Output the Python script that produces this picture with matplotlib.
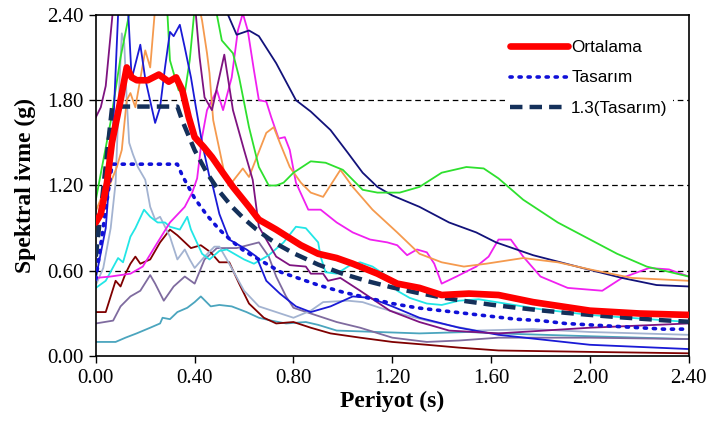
"""
Spektral ivme - periyot grafiği (kayıtlar, ortalama ve tasarım spektrumu)
"""

import matplotlib.pyplot as plt

# Kayıt spektrumları (periyot s, spektral ivme g)
t_purple = [0, 0.02, 0.04, 0.07, 0.12, 0.25, 0.38, 0.40, 0.42, 0.44, 0.47, 0.52, 0.555, 0.60, 0.635,
            0.66, 0.73, 0.785, 0.85, 0.87, 0.92, 0.94, 0.99, 1.07, 1.19, 1.31, 1.43, 1.63, 2.0, 2.4]
sa_purple = [1.68, 1.75, 1.90, 2.45, 3.0, 3.2, 2.7, 2.5, 2.1, 1.82, 1.73, 2.12, 1.73, 1.45, 1.24,
             0.91, 0.70, 0.64, 0.63, 0.58, 0.58, 0.53, 0.55, 0.46, 0.32, 0.24, 0.18, 0.16, 0.20, 0.23]

t_blue = [0, 0.04, 0.07, 0.09, 0.11, 0.13, 0.145, 0.18, 0.20, 0.24, 0.26, 0.28, 0.30, 0.315, 0.34,
          0.36, 0.385, 0.405, 0.43, 0.46, 0.47, 0.50, 0.54, 0.61, 0.65, 0.69, 0.745, 0.81, 0.87,
          0.95, 1.04, 1.11, 1.2, 1.31, 1.47, 1.63, 2.0, 2.4]
sa_blue = [0.55, 0.9, 1.6, 2.4, 2.8, 2.45, 1.95, 2.19, 1.95, 1.64, 1.75, 2.03, 2.28, 2.25, 2.33,
           2.17, 1.96, 1.75, 1.50, 1.26, 1.22, 1.0, 0.82, 0.75, 0.70, 0.53, 0.44, 0.35, 0.31,
           0.35, 0.42, 0.41, 0.35, 0.27, 0.20, 0.15, 0.08, 0.05]

t_green = [0, 0.025, 0.06, 0.10, 0.14, 0.2, 0.29, 0.30, 0.335, 0.36, 0.38, 0.40, 0.45, 0.49, 0.51,
           0.555, 0.58, 0.62, 0.66, 0.70, 0.73, 0.76, 0.80, 0.87, 0.93, 1.0, 1.08, 1.14, 1.23, 1.31,
           1.40, 1.50, 1.57, 1.63, 1.73, 1.87, 1.99, 2.11, 2.23, 2.4]
sa_green = [1.10, 1.33, 1.65, 2.1, 2.45, 3.0, 2.4, 2.08, 1.87, 1.85, 2.08, 2.45, 2.8, 2.4, 2.22,
            2.13, 1.96, 1.61, 1.33, 1.20, 1.20, 1.22, 1.29, 1.37, 1.36, 1.31, 1.17, 1.15, 1.15, 1.19,
            1.29, 1.33, 1.32, 1.25, 1.10, 0.94, 0.83, 0.72, 0.63, 0.56]

t_orange = [0, 0.03, 0.06, 0.085, 0.105, 0.125, 0.14, 0.16, 0.20, 0.22, 0.24, 0.3, 0.40, 0.43, 0.45,
            0.46, 0.475, 0.52, 0.55, 0.595, 0.62, 0.69, 0.72, 0.745, 0.785, 0.83, 0.87, 0.92, 0.99,
            1.04, 1.12, 1.22, 1.31, 1.40, 1.49, 1.58, 1.73, 1.87, 2.0, 2.17, 2.4]
sa_orange = [1.02, 1.15, 1.22, 1.33, 1.45, 1.80, 1.85, 1.75, 2.15, 2.03, 2.45, 2.9, 2.6, 2.36, 2.13,
             1.99, 1.66, 1.29, 1.22, 1.32, 1.26, 1.57, 1.61, 1.50, 1.33, 1.22, 1.15, 1.12, 1.31,
             1.19, 1.03, 0.87, 0.72, 0.66, 0.63, 0.65, 0.69, 0.66, 0.61, 0.55, 0.53]

t_navy = [0, 0.2, 0.45, 0.53, 0.57, 0.62, 0.66, 0.73, 0.81, 0.87, 0.95, 1.02, 1.08, 1.14, 1.20,
          1.31, 1.43, 1.54, 1.62, 1.77, 1.97, 2.13, 2.27, 2.4]
sa_navy = [2.8, 3.6, 2.9, 2.42, 2.26, 2.29, 2.25, 2.06, 1.80, 1.72, 1.59, 1.43, 1.29, 1.19, 1.13,
           1.05, 0.94, 0.87, 0.80, 0.71, 0.62, 0.55, 0.50, 0.49]

t_magenta = [0, 0.06, 0.14, 0.19, 0.25, 0.30, 0.36, 0.39, 0.41, 0.43, 0.45, 0.49, 0.515, 0.55, 0.575,
             0.595, 0.615, 0.64, 0.66, 0.69, 0.71, 0.74, 0.765, 0.785, 0.81, 0.86, 0.91, 0.975,
             1.04, 1.11, 1.18, 1.22, 1.26, 1.30, 1.34, 1.37, 1.40, 1.46, 1.54, 1.59, 1.63, 1.68,
             1.73, 1.80, 1.91, 2.05, 2.13, 2.24, 2.32, 2.4]
sa_magenta = [0.55, 0.56, 0.58, 0.63, 0.80, 0.94, 1.05, 1.15, 1.25, 1.54, 1.73, 1.87, 1.73, 1.96, 2.29,
              2.41, 2.29, 2.01, 1.80, 1.79, 1.68, 1.53, 1.54, 1.45, 1.22, 1.03, 1.03, 0.94,
              0.87, 0.82, 0.80, 0.78, 0.71, 0.75, 0.73, 0.65, 0.51, 0.56, 0.63, 0.70, 0.82, 0.82,
              0.70, 0.56, 0.48, 0.46, 0.55, 0.62, 0.61, 0.56]

t_cyan = [0, 0.04, 0.09, 0.11, 0.14, 0.16, 0.195, 0.22, 0.25, 0.28, 0.30, 0.34, 0.37, 0.385, 0.43,
          0.46, 0.50, 0.53, 0.60, 0.64, 0.70, 0.76, 0.81, 0.85, 0.90, 0.91, 0.93, 0.975, 1.03, 1.07,
          1.12, 1.18, 1.22, 1.27, 1.34, 1.40, 1.47, 1.55, 1.8, 2.0, 2.4]
sa_cyan = [0.48, 0.53, 0.69, 0.66, 0.84, 0.90, 1.03, 0.98, 0.94, 0.94, 0.91, 0.89, 0.98, 0.89, 0.72,
           0.68, 0.74, 0.75, 0.68, 0.65, 0.71, 0.80, 0.91, 0.90, 0.80, 0.70, 0.59, 0.58, 0.64, 0.66,
           0.63, 0.56, 0.46, 0.41, 0.37, 0.36, 0.39, 0.40, 0.33, 0.29, 0.24]

t_grayblue = [0, 0.03, 0.06, 0.08, 0.095, 0.105, 0.115, 0.125, 0.135, 0.15, 0.17, 0.20, 0.22, 0.24,
              0.26, 0.30, 0.33, 0.36, 0.38, 0.40, 0.44, 0.48, 0.50, 0.54, 0.60, 0.66, 0.73, 0.80,
              0.87, 0.92, 1.02, 1.08, 1.15, 1.23, 1.34, 1.45, 1.54, 1.77, 2.0, 2.4]
sa_grayblue = [0.50, 0.62, 0.90, 1.22, 1.9, 2.27, 2.2, 1.80, 1.50, 1.42, 1.33, 1.24, 1.05, 0.96,
               0.98, 0.84, 0.68, 0.75, 0.68, 0.62, 0.70, 0.77, 0.77, 0.65, 0.46, 0.35, 0.31, 0.27,
               0.32, 0.38, 0.39, 0.38, 0.34, 0.30, 0.25, 0.21, 0.18, 0.19, 0.17, 0.15]

t_maroon = [0, 0.04, 0.08, 0.10, 0.12, 0.14, 0.16, 0.18, 0.22, 0.26, 0.30, 0.33, 0.385, 0.425, 0.465,
            0.50, 0.54, 0.58, 0.62, 0.68, 0.73, 0.80, 0.87, 0.95, 1.07, 1.20, 1.34, 1.47, 1.63, 2.0, 2.4]
sa_maroon = [0.31, 0.31, 0.53, 0.49, 0.58, 0.65, 0.70, 0.65, 0.68, 0.80, 0.89, 0.85, 0.76, 0.78, 0.73,
             0.66, 0.66, 0.51, 0.37, 0.27, 0.23, 0.24, 0.20, 0.16, 0.13, 0.10, 0.08, 0.06, 0.04, 0.03, 0.02]

t_graypurple = [0, 0.07, 0.10, 0.14, 0.18, 0.22, 0.24, 0.275, 0.315, 0.36, 0.40, 0.44, 0.49, 0.57,
                0.66, 0.70, 0.73, 0.77, 0.80, 0.87, 0.975, 1.07, 1.20, 1.34, 1.47, 1.63, 2.0, 2.4]
sa_graypurple = [0.23, 0.25, 0.35, 0.42, 0.46, 0.57, 0.51, 0.39, 0.49, 0.56, 0.51, 0.68, 0.76, 0.76,
                 0.80, 0.70, 0.56, 0.42, 0.34, 0.30, 0.24, 0.20, 0.13, 0.10, 0.11, 0.13, 0.13, 0.12]

t_teal = [0, 0.08, 0.12, 0.165, 0.22, 0.26, 0.27, 0.30, 0.33, 0.37, 0.40, 0.425, 0.465, 0.50, 0.55,
          0.61, 0.66, 0.71, 0.77, 0.85, 0.90, 0.975, 1.14, 1.31, 1.51, 1.63, 2.0, 2.4]
sa_teal = [0.10, 0.10, 0.13, 0.16, 0.20, 0.23, 0.27, 0.26, 0.31, 0.34, 0.38, 0.42, 0.35, 0.36, 0.35,
           0.31, 0.27, 0.25, 0.23, 0.24, 0.22, 0.18, 0.17, 0.16, 0.17, 0.16, 0.14, 0.12]

# Ortalama spektrum
t_mean = [0, 0.02, 0.045, 0.065, 0.10, 0.125, 0.145, 0.166, 0.21, 0.255, 0.295, 0.325, 0.35, 0.376,
          0.40, 0.437, 0.47, 0.51, 0.555, 0.62, 0.66, 0.73, 0.83, 0.90, 0.975, 1.04, 1.14, 1.22,
          1.31, 1.40, 1.51, 1.63, 1.77, 2.0, 2.2, 2.4]
sa_mean = [0.94, 1.0, 1.22, 1.50, 1.80, 2.03, 1.96, 1.94, 1.94, 1.98, 1.93, 1.96, 1.87, 1.68,
           1.54, 1.47, 1.40, 1.30, 1.19, 1.05, 0.96, 0.89, 0.78, 0.72, 0.69, 0.65, 0.58, 0.51,
           0.48, 0.43, 0.44, 0.43, 0.38, 0.32, 0.30, 0.29]

# Tasarım spektrumu ve 1.3 katı
t_design = [0, 0.066, 0.33, 0.35, 0.40, 0.45, 0.5, 0.55, 0.6, 0.65, 0.7, 0.75, 0.8, 0.9, 1.0, 1.1,
            1.2, 1.3, 1.4, 1.5, 1.6, 1.7, 1.8, 1.9, 2.0, 2.1, 2.2, 2.3, 2.4]
sa_design = [0.54, 1.35, 1.35, 1.27, 1.11, 0.99, 0.89, 0.81, 0.74, 0.69, 0.64, 0.59, 0.56, 0.50,
             0.45, 0.41, 0.37, 0.34, 0.32, 0.30, 0.28, 0.26, 0.25, 0.23, 0.22, 0.21, 0.20, 0.19, 0.19]
sa_design13 = [0.70, 1.755, 1.755, 1.655, 1.448, 1.287, 1.158, 1.053, 0.966, 0.891, 0.827, 0.772,
               0.724, 0.644, 0.579, 0.527, 0.483, 0.446, 0.413, 0.386, 0.362, 0.341, 0.322, 0.305,
               0.290, 0.276, 0.264, 0.252, 0.242]

records = [
    (t_teal, sa_teal, '#4BA5BE'),
    (t_graypurple, sa_graypurple, '#7F6B9F'),
    (t_maroon, sa_maroon, '#7F0000'),
    (t_grayblue, sa_grayblue, '#A3B3D1'),
    (t_cyan, sa_cyan, '#22E6E6'),
    (t_magenta, sa_magenta, '#F020F0'),
    (t_navy, sa_navy, '#12127A'),
    (t_orange, sa_orange, '#F59A4E'),
    (t_green, sa_green, '#2EE02E'),
    (t_blue, sa_blue, '#1A1AD6'),
    (t_purple, sa_purple, '#7E1380'),
]

SERIF = 'Liberation Serif'

fig = plt.figure(figsize=(7.10, 4.24), dpi=100)
ax = fig.add_axes([0.135, 0.160, 0.835, 0.805])

for t, sa, c in records:
    ax.plot(t, sa, color=c, linewidth=1.3, zorder=2)

ax.plot(t_design, sa_design, color='#1010D8', linewidth=2.6,
        linestyle=(0, (0.6, 1.9)), dash_capstyle='round', label='Tasarım', zorder=3)
ax.plot(t_design, sa_design13, color='#14305A', linewidth=3.2,
        linestyle=(0, (2.8, 1.6)), label='1.3(Tasarım)', zorder=4)
ax.plot(t_mean, sa_mean, color='#FF0000', linewidth=4.8, label='Ortalama',
        solid_capstyle='round', zorder=5)

ax.set_xlim(0, 2.4)
ax.set_ylim(0, 2.4)
ax.set_xticks([0, 0.4, 0.8, 1.2, 1.6, 2.0, 2.4])
ax.set_yticks([0, 0.6, 1.2, 1.8, 2.4])
ax.set_xticklabels(['%.2f' % v for v in ax.get_xticks()], family=SERIF, fontsize=15)
ax.set_yticklabels(['%.2f' % v for v in ax.get_yticks()], family=SERIF, fontsize=15)
ax.tick_params(direction='out', length=5, width=1, pad=4)

for g in [0.6, 1.2, 1.8]:
    ax.axhline(g, color='black', linewidth=0.9, linestyle=(0, (4.5, 3)), zorder=1)

for s in ax.spines.values():
    s.set_linewidth(1.2)

ax.set_xlabel('Periyot (s)', family=SERIF, fontsize=17, fontweight='bold', labelpad=2)
ax.set_ylabel('Spektral ivme (g)', family=SERIF, fontsize=17, fontweight='bold', labelpad=8)

h, l = ax.get_legend_handles_labels()
order = [2, 0, 1]
leg = ax.legend([h[i] for i in order], [l[i] for i in order], loc='upper left',
                bbox_to_anchor=(0.675, 0.965), frameon=True, handlelength=3.4,
                handletextpad=0.2, labelspacing=0.88, borderpad=0.3,
                prop={'family': 'Liberation Sans', 'size': 12.3})
leg.get_frame().set_facecolor('white')
leg.get_frame().set_edgecolor('none')
leg.get_frame().set_alpha(1.0)
leg.get_frame().set_boxstyle('square', pad=0.0)
leg.set_zorder(10)

fig.savefig('out.png', dpi=100)
